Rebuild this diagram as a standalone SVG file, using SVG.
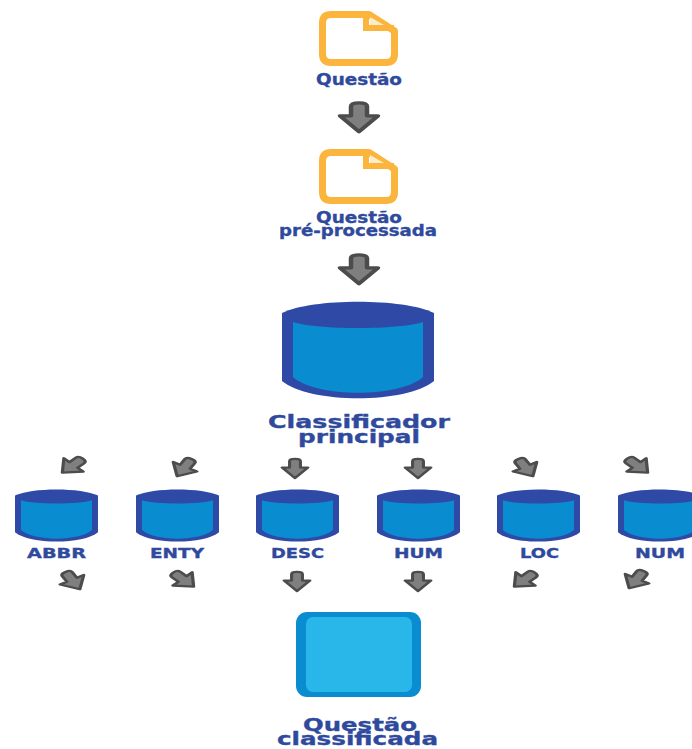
<svg xmlns="http://www.w3.org/2000/svg" width="692" height="749" viewBox="0 0 692 749">
<style>
text{font-family:"DejaVu Sans","Liberation Sans",sans-serif;font-weight:700;fill:#2f4a9c;stroke:#2f4a9c;stroke-width:.35px}
.s{font-size:15px}.l{font-size:18px}.c{font-size:14px}.q{font-size:18px}
</style>
<defs>
<g id="doc">
<path d="M47,3.5H12Q3.5,3.5 3.5,12V43Q3.5,51.5 12,51.5H67Q75.5,51.5 75.5,43V20L50,3.5Z" fill="#fff" stroke="#fbb53c" stroke-width="7" stroke-linejoin="round"/>
<path d="M47,3.5V17H75" fill="none" stroke="#fbb53c" stroke-width="6"/>
<path d="M51,6L65,14H51Z" fill="#fdeccb"/>
</g>
<g id="cyl">
<path d="M0,12C30,-3 122,-3 152,12V80C125,103 27,103 0,80Z" fill="#2e4aa6"/>
<path d="M11,21C35,29 117,29 141,21V76C118,97 34,97 11,76Z" fill="#0a8dd0"/>
</g>
<path id="arr" d="M-8,-16Q-8,-21 0,-21Q8,-21 8,-16V-3H19L0,19L-19,-3H-8Z" fill="#7f7f7f" stroke="#4c4c4c" stroke-width="4.5" stroke-linejoin="round"/>
</defs>
<rect width="692" height="749" fill="#fff"/>
<g id="connectors">
<use href="#arr" transform="translate(359,118) scale(1,.72)"/>
<use href="#arr" transform="translate(359,270) scale(1,.72)"/>
<use href="#arr" transform="translate(72,466) scale(.72,.5) rotate(45)"/>
<use href="#arr" transform="translate(184,468) scale(.72,.5) rotate(30)"/>
<use href="#arr" transform="translate(295,469) scale(.68,.48)"/>
<use href="#arr" transform="translate(418,469) scale(.68,.48)"/>
<use href="#arr" transform="translate(526,468) scale(.72,.5) rotate(-30)"/>
<use href="#arr" transform="translate(638,466) scale(.72,.5) rotate(-45)"/>
<use href="#arr" transform="translate(73,581) scale(.72,.5) rotate(-30)"/>
<use href="#arr" transform="translate(184,580) scale(.72,.5) rotate(-45)"/>
<use href="#arr" transform="translate(297,582) scale(.68,.48)"/>
<use href="#arr" transform="translate(418,582) scale(.68,.48)"/>
<use href="#arr" transform="translate(524,580) scale(.72,.5) rotate(45)"/>
<use href="#arr" transform="translate(636,580) scale(.72,.5) rotate(30)"/>
</g>
<g id="questao">
<use href="#doc" transform="translate(319,11)"/>
<text class="s" x="316" y="85" textLength="86" lengthAdjust="spacingAndGlyphs">Questão</text>
</g>
<g id="questao-pre">
<use href="#doc" transform="translate(319,149)"/>
<text class="s" x="316" y="223" textLength="86" lengthAdjust="spacingAndGlyphs">Questão</text>
<text class="s" x="279" y="236" textLength="158" lengthAdjust="spacingAndGlyphs">pré-processada</text>
</g>
<g id="classificador">
<use href="#cyl" transform="translate(282,301)"/>
<text class="l" x="268" y="428" textLength="182" lengthAdjust="spacingAndGlyphs">Classificador</text>
<text class="l" x="298" y="443" textLength="122" lengthAdjust="spacingAndGlyphs">principal</text>
</g>
<g id="abbr">
<use href="#cyl" transform="translate(15,489) scale(.546,.541)"/>
<text class="c" x="27" y="558" textLength="59" lengthAdjust="spacingAndGlyphs">ABBR</text>
</g>
<g id="enty">
<use href="#cyl" transform="translate(136,489) scale(.546,.541)"/>
<text class="c" x="150" y="558" textLength="54" lengthAdjust="spacingAndGlyphs">ENTY</text>
</g>
<g id="desc">
<use href="#cyl" transform="translate(256,489) scale(.546,.541)"/>
<text class="c" x="271" y="558" textLength="53" lengthAdjust="spacingAndGlyphs">DESC</text>
</g>
<g id="hum">
<use href="#cyl" transform="translate(377,489) scale(.546,.541)"/>
<text class="c" x="394" y="558" textLength="49" lengthAdjust="spacingAndGlyphs">HUM</text>
</g>
<g id="loc">
<use href="#cyl" transform="translate(497,489) scale(.546,.541)"/>
<text class="c" x="520" y="558" textLength="39" lengthAdjust="spacingAndGlyphs">LOC</text>
</g>
<g id="num">
<use href="#cyl" transform="translate(618,489) scale(.546,.541)"/>
<text class="c" x="635" y="558" textLength="50" lengthAdjust="spacingAndGlyphs">NUM</text>
</g>
<g id="questao-classificada">
<rect x="296" y="612" width="125" height="85" rx="11" fill="#0a8dd0"/>
<rect x="306" y="617" width="106" height="75" rx="7" fill="#29b6e9"/>
<text class="q" x="303" y="731" textLength="114" lengthAdjust="spacingAndGlyphs">Questão</text>
<text class="q" x="277" y="745" textLength="161" lengthAdjust="spacingAndGlyphs">classificada</text>
</g>
</svg>
